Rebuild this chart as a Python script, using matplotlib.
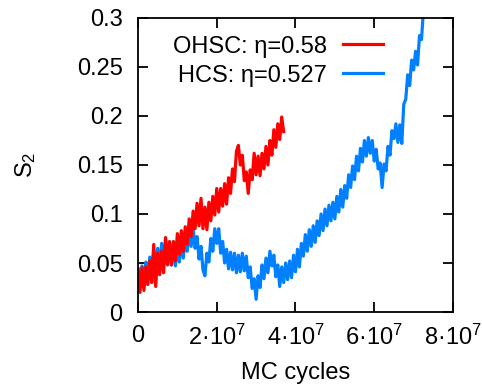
import numpy as np
import matplotlib
matplotlib.use('Agg')
import matplotlib.pyplot as plt

plt.rcParams['font.family'] = ['Liberation Sans', 'DejaVu Sans']
plt.rcParams['mathtext.default'] = 'regular'

# MC cycles in units of 1e7, sampled every 0.05e7
ohsc_x = np.arange(75) * 0.05
ohsc_s2 = [0.044, 0.020, 0.045, 0.022, 0.046, 0.028, 0.052, 0.030, 0.069, 0.026,
           0.060, 0.038, 0.062, 0.040, 0.076, 0.048, 0.072, 0.048, 0.072, 0.052,
           0.080, 0.059, 0.083, 0.062, 0.087, 0.069, 0.095, 0.077, 0.103, 0.085,
           0.111, 0.088, 0.116, 0.085, 0.107, 0.084, 0.112, 0.093, 0.118, 0.099,
           0.126, 0.102, 0.126, 0.108, 0.131, 0.110, 0.137, 0.121, 0.146, 0.133,
           0.164, 0.170, 0.150, 0.160, 0.134, 0.143, 0.121, 0.145, 0.135, 0.162,
           0.140, 0.159, 0.139, 0.162, 0.146, 0.169, 0.150, 0.175, 0.160, 0.186,
           0.168, 0.192, 0.176, 0.199, 0.184]

hcs_x = np.arange(146) * 0.05
hcs_s2 = [0.044, 0.028, 0.047, 0.032, 0.051, 0.035, 0.056, 0.041, 0.063, 0.044,
          0.065, 0.045, 0.070, 0.051, 0.074, 0.052, 0.070, 0.048, 0.067, 0.047,
          0.068, 0.051, 0.074, 0.055, 0.077, 0.062, 0.083, 0.067, 0.086, 0.065,
          0.077, 0.054, 0.067, 0.043, 0.037, 0.060, 0.051, 0.075, 0.062, 0.085,
          0.070, 0.085, 0.060, 0.072, 0.050, 0.064, 0.044, 0.061, 0.043, 0.060,
          0.040, 0.058, 0.041, 0.060, 0.042, 0.057, 0.035, 0.046, 0.024, 0.034,
          0.013, 0.037, 0.025, 0.048, 0.034, 0.055, 0.040, 0.062, 0.047, 0.058,
          0.036, 0.048, 0.026, 0.046, 0.030, 0.050, 0.033, 0.052, 0.035, 0.058,
          0.041, 0.064, 0.046, 0.070, 0.057, 0.079, 0.062, 0.084, 0.067, 0.088,
          0.071, 0.093, 0.078, 0.100, 0.083, 0.105, 0.088, 0.109, 0.093, 0.112,
          0.095, 0.118, 0.102, 0.125, 0.107, 0.129, 0.116, 0.140, 0.127, 0.149,
          0.135, 0.159, 0.144, 0.167, 0.153, 0.175, 0.159, 0.178, 0.162, 0.175,
          0.154, 0.166, 0.146, 0.152, 0.127, 0.151, 0.144, 0.169, 0.160, 0.185,
          0.177, 0.192, 0.173, 0.191, 0.172, 0.212, 0.217, 0.242, 0.231, 0.257,
          0.247, 0.266, 0.252, 0.282, 0.278, 0.308]

x_ticks = [0, 2, 4, 6, 8]
x_tick_labels = ['0', '2·10$^{7}$', '4·10$^{7}$', '6·10$^{7}$', '8·10$^{7}$']
y_ticks = [0, 0.05, 0.1, 0.15, 0.2, 0.25, 0.3]
y_tick_labels = ['0', '0.05', '0.1', '0.15', '0.2', '0.25', '0.3']

fig = plt.figure(figsize=(4.82, 3.86), dpi=100)
ax = fig.add_axes([0.2863, 0.1917, 0.6535, 0.7617])

l_hcs, = ax.plot(hcs_x, hcs_s2, color='#0080ff', lw=2.3, label='HCS: η=0.527')
l_ohsc, = ax.plot(ohsc_x, ohsc_s2, color='#ff0000', lw=2.3, label='OHSC: η=0.58')

ax.set_xlim(0, 8)
ax.set_ylim(0, 0.3)
ax.set_xticks(x_ticks, x_tick_labels)
ax.set_yticks(y_ticks, y_tick_labels)
ax.tick_params(direction='in', length=7, width=1.3, labelsize=17,
               top=True, right=True)
ax.tick_params(axis='x', pad=9)
ax.tick_params(axis='y', pad=11)
for s in ax.spines.values():
    s.set_linewidth(1.3)

ax.set_xlabel('MC cycles', fontsize=17, labelpad=9)
ax.set_ylabel('S$_2$', fontsize=17, labelpad=28)

ax.legend([l_ohsc, l_hcs], ['OHSC: η=0.58', 'HCS: η=0.527'],
          loc='upper right', bbox_to_anchor=(0.778, 0.94), frameon=False,
          markerfirst=False, fontsize=17, handlelength=1.7, handletextpad=0.68,
          labelspacing=0.3, borderpad=0, borderaxespad=0)

fig.savefig('out.png', dpi=100)
